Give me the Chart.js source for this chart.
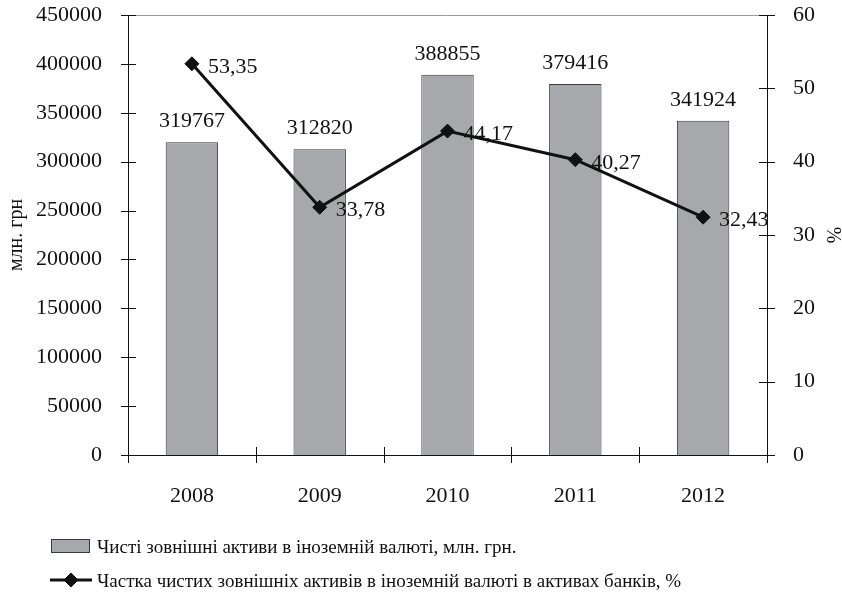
<!DOCTYPE html>
<html>
<head>
<meta charset="utf-8">
<script src="https://cdn.jsdelivr.net/npm/chart.js@4/dist/chart.umd.min.js"></script>
<style>
  html, body { margin: 0; background: #fff; }
  #wrap { width: 842px; height: 595px; }
</style>
</head>
<body>
<div id="wrap"><canvas id="chart"></canvas></div>
<script>
// Values.
var years = ['2008', '2009', '2010', '2011', '2012'];
var netAssets = [319767, 312820, 388855, 379416, 341924];   // млн. грн
var assetShare = [53.35, 33.78, 44.17, 40.27, 32.43];         // %
var leftAxis = { max: 450000, step: 50000 };
var rightAxis = { max: 60, step: 10 };
var legendLabels = [
  'Чисті зовнішні активи в іноземній валюті, млн. грн.',
  'Частка чистих зовнішніх активів в іноземній валюті в активах банків, %'
];

var INK = '#111';
var BAR_FILL = '#a6a8ab';
var BAR_EDGE = '#3a3a3a';
var FONT_FAMILY = "'Liberation Serif', 'Times New Roman', serif";
var FONT_SIZE = 22;
var FONT = FONT_SIZE + 'px ' + FONT_FAMILY;
var LEGEND_FONT = '19px ' + FONT_FAMILY;

Chart.defaults.font.family = FONT_FAMILY;
Chart.defaults.font.size = FONT_SIZE;
Chart.defaults.color = INK;

function comma(v) {
  return v.toFixed(2).replace('.', ',');
}

function plain(v) {
  return String(v);
}

// fixed-size value axes so the plot area lands where the original has it
function fixWidth(w) {
  return function (s) {
    s.width = w;
    s.paddingTop = 15;
    s.paddingBottom = 0;
  };
}

// crossing tick marks on all three axes, plus the thin top frame line
var axisMarks = {
  id: 'axisMarks',
  afterDraw: function (chart) {
    var ctx = chart.ctx;
    var a = chart.chartArea;
    var x = chart.scales.x, y = chart.scales.y, y1 = chart.scales.y1;
    ctx.save();
    ctx.strokeStyle = '#9a9a9a';
    ctx.lineWidth = 1;
    ctx.beginPath();
    ctx.moveTo(a.left, Math.round(a.top) + 0.5);
    ctx.lineTo(a.right, Math.round(a.top) + 0.5);
    ctx.stroke();

    ctx.strokeStyle = INK;
    ctx.beginPath();
    y.ticks.forEach(function (t) {
      var p = Math.round(y.getPixelForValue(t.value)) + 0.5;
      ctx.moveTo(a.left - 7, p);
      ctx.lineTo(a.left + 8, p);
    });
    y1.ticks.forEach(function (t) {
      var p = Math.round(y1.getPixelForValue(t.value)) + 0.5;
      ctx.moveTo(a.right - 8, p);
      ctx.lineTo(a.right + 8, p);
    });
    for (var i = 0; i <= years.length; i++) {
      var px = Math.round(x.getPixelForValue(i - 0.5)) + 0.5;
      ctx.moveTo(px, a.bottom - 8);
      ctx.lineTo(px, a.bottom + 8);
    }
    ctx.stroke();
    ctx.restore();
  }
};

// value labels: above bars, to the right of the line points
var valueLabels = {
  id: 'valueLabels',
  afterDatasetsDraw: function (chart) {
    var ctx = chart.ctx;
    ctx.save();
    ctx.font = FONT;
    ctx.fillStyle = INK;
    ctx.textBaseline = 'alphabetic';
    ctx.textAlign = 'center';
    chart.getDatasetMeta(0).data.forEach(function (bar, i) {
      ctx.fillText(String(netAssets[i]), bar.x, bar.y - 15);
    });
    ctx.textAlign = 'left';
    chart.getDatasetMeta(1).data.forEach(function (pt, i) {
      ctx.fillText(comma(assetShare[i]), pt.x + 16, pt.y + 9);
    });
    ctx.restore();
  }
};

// two-row legend, left aligned under the chart
var bottomLegend = {
  id: 'bottomLegend',
  afterDraw: function (chart) {
    var ctx = chart.ctx;
    var h = chart.height;
    var row1 = h - 49, row2 = h - 15;
    ctx.save();
    ctx.fillStyle = BAR_FILL;
    ctx.strokeStyle = BAR_EDGE;
    ctx.lineWidth = 1;
    ctx.fillRect(51, row1 - 7, 39, 14);
    ctx.strokeRect(51.5, row1 - 6.5, 38, 13);

    ctx.strokeStyle = INK;
    ctx.lineWidth = 3;
    ctx.beginPath();
    ctx.moveTo(50, row2);
    ctx.lineTo(92, row2);
    ctx.stroke();
    ctx.fillStyle = INK;
    ctx.lineWidth = 1;
    Chart.helpers.drawPoint(ctx, { pointStyle: 'rectRot', radius: 7, borderWidth: 1 }, 71, row2);

    ctx.font = LEGEND_FONT;
    ctx.fillStyle = INK;
    ctx.textAlign = 'left';
    ctx.textBaseline = 'alphabetic';
    ctx.fillText(legendLabels[0], 97, row1 + 7);
    ctx.fillText(legendLabels[1], 97, row2 + 7);
    ctx.restore();
  }
};

new Chart(document.getElementById('chart'), {
  type: 'bar',
  data: {
    labels: years,
    datasets: [
      {
        type: 'bar',
        label: legendLabels[0],
        data: netAssets,
        yAxisID: 'y',
        backgroundColor: BAR_FILL,
        borderColor: BAR_EDGE,
        borderWidth: 1,
        barPercentage: 0.41,
        categoryPercentage: 1,
        order: 2
      },
      {
        type: 'line',
        label: legendLabels[1],
        data: assetShare,
        yAxisID: 'y1',
        borderColor: INK,
        backgroundColor: INK,
        borderWidth: 3,
        pointStyle: 'rectRot',
        pointRadius: 7,
        pointBorderWidth: 1,
        pointBackgroundColor: INK,
        tension: 0,
        order: 1
      }
    ]
  },
  options: {
    responsive: true,
    maintainAspectRatio: false,
    animation: false,
    layout: { padding: { top: 0, bottom: 80 } },
    plugins: {
      legend: { display: false },
      tooltip: { enabled: false }
    },
    scales: {
      x: {
        grid: { display: false },
        border: { color: INK, width: 1 },
        ticks: { padding: 20, color: INK },
        afterFit: function (s) { s.height = 60; }
      },
      y: {
        position: 'left',
        min: 0,
        max: leftAxis.max,
        grid: { display: false },
        border: { color: INK, width: 1 },
        ticks: { stepSize: leftAxis.step, padding: 18, color: INK, callback: plain },
        title: { display: true, text: 'млн. грн', color: INK, font: { size: 20 }, padding: { top: 5, bottom: 0 } },
        afterFit: fixWidth(128)
      },
      y1: {
        position: 'right',
        min: 0,
        max: rightAxis.max,
        grid: { display: false },
        border: { color: INK, width: 1 },
        ticks: { stepSize: rightAxis.step, padding: 18, color: INK, callback: plain },
        title: { display: true, text: '%', color: INK, font: { size: 20, lineHeight: 1 }, padding: 0 },
        afterFit: fixWidth(75)
      }
    }
  },
  plugins: [axisMarks, valueLabels, bottomLegend]
});
</script>
</body>
</html>
